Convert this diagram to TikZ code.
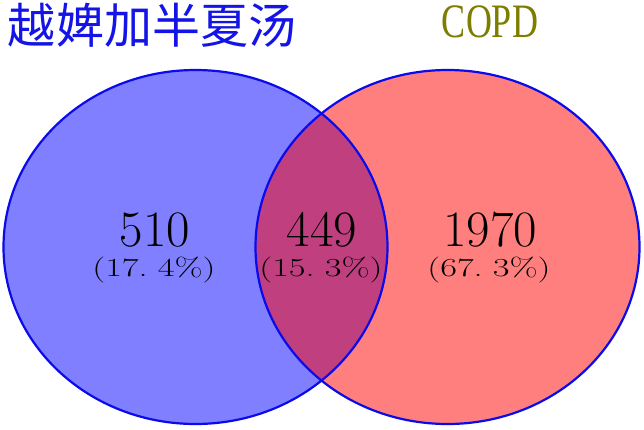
\documentclass[tikz,border=0pt]{standalone}
\usepackage{fontspec}
\newfontfamily\cjk{Noto Sans CJK SC}
\newfontfamily\copdfont{Liberation Serif}
\definecolor{setA}{RGB}{0,0,255}
\definecolor{setB}{RGB}{255,0,0}
\definecolor{edge}{RGB}{10,10,235}
\definecolor{titleblue}{RGB}{20,20,230}
\definecolor{olive2}{RGB}{125,125,0}
\tikzset{
  setfill/.style={fill opacity=0.5},
  setedge/.style={draw=edge, line width=2.2pt},
  bignum/.style={font=\fontsize{51}{54}\selectfont, inner sep=0pt, text=black},
  pct/.style={font=\fontsize{26}{28}\selectfont, inner sep=0pt, text=black, xscale=1.4},
}
\begin{document}
\begin{tikzpicture}[x=1pt,y=-1pt]
\useasboundingbox (0,0) rectangle (644,429);
\fill[white] (0,0) rectangle (644,429);
% fills
\fill[setA, setfill] (195.5,247) ellipse [x radius=192, y radius=177];
\fill[setB, setfill] (447.5,247) ellipse [x radius=192, y radius=177];
% outlines
\draw[setedge] (195.5,247) ellipse [x radius=192, y radius=177];
\draw[setedge] (447.5,247) ellipse [x radius=192, y radius=177];
% titles
\node[inner sep=0pt, text=titleblue, font=\cjk\fontsize{48}{50}\selectfont] (tA) at (152,25) {越婢加半夏汤};
\node[inner sep=0pt, text=olive2, font=\copdfont\fontsize{48}{50}\selectfont, xscale=0.75] (tB) at (490,22) {COPD};
% counts
\node[bignum] (nA) at (155,230) {510};
\node[pct] (pA) at (154,270) {(17.\;4\%)};
\node[bignum] (nAB) at (322,230) {449};
\node[pct] (pAB) at (321,270) {(15.\;3\%)};
\node[bignum] (nB) at (490,230) {1970};
\node[pct] (pB) at (489,270) {(67.\;3\%)};
\end{tikzpicture}
\end{document}
